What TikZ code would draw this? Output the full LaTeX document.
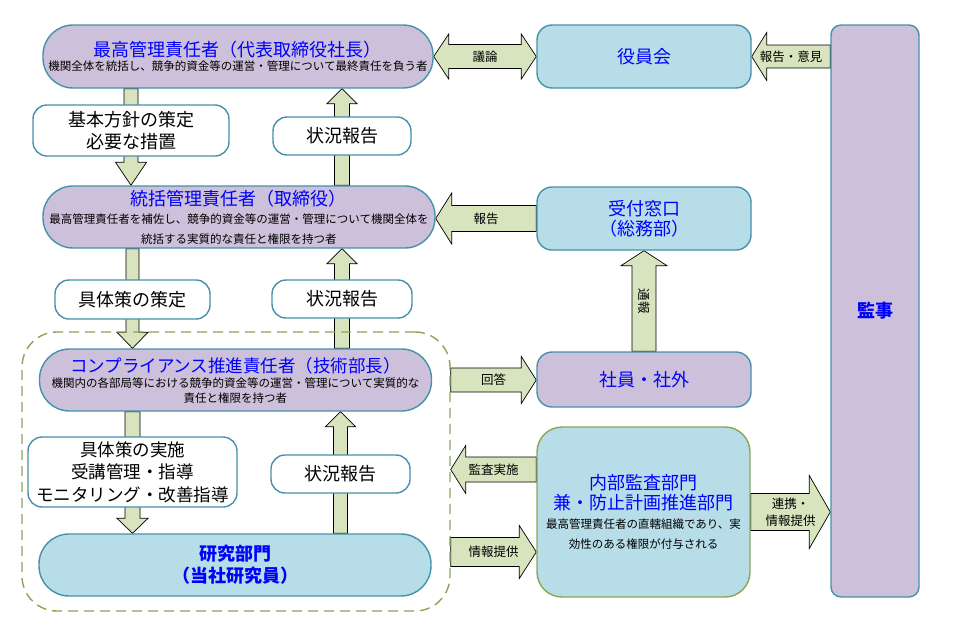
\documentclass[tikz,border=0pt]{standalone}
\usepackage{fontspec}
\setmainfont{Noto Sans CJK JP}
\usetikzlibrary{positioning, calc, backgrounds}
\definecolor{LavFill}{RGB}{204,192,218}
\definecolor{AquaFill}{RGB}{183,221,232}
\definecolor{TealLine}{RGB}{70,145,170}
\definecolor{OliveLine}{RGB}{140,165,85}
\definecolor{ArrowFill}{RGB}{215,228,189}
\definecolor{TitleBlue}{RGB}{0,0,255}

\newcommand{\ttl}{\fontsize{18}{20}\selectfont\color{TitleBlue}}
\newcommand{\lblfont}{\fontsize{12.5}{17}\selectfont}

% block arrows: from, to, half shaft, half head, head length (, label)
\newcommand{\downblk}[5]{\draw[blockarrow] let \p1=#1, \p2=#2 in
  (\x1-#3,\y1) -- (\x1-#3,\y2+#5) -- (\x1-#4,\y2+#5) -- (\x1,\y2) -- (\x1+#4,\y2+#5) -- (\x1+#3,\y2+#5) -- (\x1+#3,\y1) -- cycle;}
\newcommand{\upblk}[5]{\draw[blockarrow] let \p1=#1, \p2=#2 in
  (\x1-#3,\y1) -- (\x1-#3,\y2-#5) -- (\x1-#4,\y2-#5) -- (\x1,\y2) -- (\x1+#4,\y2-#5) -- (\x1+#3,\y2-#5) -- (\x1+#3,\y1) -- cycle;}
\newcommand{\rightblk}[6]{\draw[blockarrow] let \p1=#1, \p2=#2 in
  (\x1,\y1+#3) -- (\x2-#5,\y1+#3) -- (\x2-#5,\y1+#4) -- (\x2,\y1) -- (\x2-#5,\y1-#4) -- (\x2-#5,\y1-#3) -- (\x1,\y1-#3) -- cycle
  ({(\x1+\x2)/2},\y1) node[arrowlbl] {#6};}
\newcommand{\leftblk}[6]{\draw[blockarrow] let \p1=#1, \p2=#2 in
  (\x1,\y1+#3) -- (\x2+#5,\y1+#3) -- (\x2+#5,\y1+#4) -- (\x2,\y1) -- (\x2+#5,\y1-#4) -- (\x2+#5,\y1-#3) -- (\x1,\y1-#3) -- cycle
  ({(\x1+\x2)/2},\y1) node[arrowlbl] {#6};}
\newcommand{\bothblk}[6]{\draw[blockarrow] let \p1=#1, \p2=#2 in
  (\x1,\y1) -- (\x1+#5,\y1+#4) -- (\x1+#5,\y1+#3) -- (\x2-#5,\y1+#3) -- (\x2-#5,\y1+#4) -- (\x2,\y1) -- (\x2-#5,\y1-#4) -- (\x2-#5,\y1-#3) -- (\x1+#5,\y1-#3) -- (\x1+#5,\y1-#4) -- cycle
  ({(\x1+\x2)/2},\y1) node[arrowlbl] {#6};}

\begin{document}
\begin{tikzpicture}[x=1pt, y=-1pt]
        \tikzstyle{box} = [draw=TealLine, line width=1.4pt, align=center, inner sep=0pt,
          font=\fontsize{11.5}{14.5}\selectfont]
        \tikzstyle{pill} = [box, rounded corners=30pt, minimum width=392pt, minimum height=62pt]
        \tikzstyle{panel} = [box, rounded corners=15pt, minimum width=214pt, minimum height=63pt, font=\ttl]
        \tikzstyle{note} = [box, fill=white, rounded corners=14pt, font=\fontsize{18}{22}\selectfont]
        \tikzstyle{blockarrow} = [draw=black, line width=0.7pt, fill=ArrowFill]
        \tikzstyle{arrowlbl} = [font=\lblfont, align=center, inner sep=0pt]
        \tikzstyle{grpbox} = [draw=OliveLine, line width=1.4pt, dash pattern=on 10pt off 6pt,
          rounded corners=35pt, minimum width=428pt, minimum height=279pt]

        \useasboundingbox (0,0) rectangle (962,638);

        % management chain
        \node[pill, fill=LavFill, minimum width=390pt, minimum height=63pt] (top) at (238,56.5)
          {{\ttl 最高管理責任者（代表取締役社長）}\\機関全体を統括し、競争的資金等の運営・管理について最終責任を負う者};
        \node[pill, fill=LavFill, font=\fontsize{11.5}{20}\selectfont] (ctrl) at (239,217)
          {{\ttl 統括管理責任者（取締役）}\\[-2.4pt]最高管理責任者を補佐し、競争的資金等の運営・管理について機関全体を\\統括する実質的な責任と権限を持つ者};
        \node[pill, fill=LavFill, font=\fontsize{11.5}{15}\selectfont] (comp) at (235.5,380)
          {{\fontsize{17.5}{20}\selectfont\color{TitleBlue}コンプライアンス推進責任者（技術部長）}\\機関内の各部局等における競争的資金等の運営・管理について実質的な\\責任と権限を持つ者};
        \node[pill, fill=AquaFill, font=\fontsize{18}{22}\selectfont\bfseries, text=TitleBlue] (lab) at (235,565)
          {研究部門\\（当社研究員）};

        \node[note, minimum width=196pt, minimum height=51pt] (pol) at (131,130.5) {基本方針の策定\\必要な措置};
        \node[note, minimum width=138pt, minimum height=38pt] (rep1) at (342,136) {状況報告};
        \node[note, minimum width=155pt, minimum height=39pt] (plan) at (132.5,299.5) {具体策の策定};
        \node[note, minimum width=140pt, minimum height=38pt] (rep2) at (342,299) {状況報告};
        \node[note, minimum width=209pt, minimum height=70pt, font=\fontsize{17.5}{22.5}\selectfont] (impl) at (132.5,472)
          {具体策の実施\\受講管理・指導\\モニタリング・改善指導};
        \node[note, minimum width=139pt, minimum height=38pt] (rep3) at (340.5,474) {状況報告};

        \node[grpbox] (grp) at (236,471.5) {};

        % right side
        \node[panel, fill=AquaFill] (board) at (644,56.5) {役員会};
        \node[panel, fill=AquaFill] (desk) at (644,218.5) {受付窓口\\（総務部）};
        \node[panel, fill=LavFill, minimum height=55pt] (staff) at (644,379.5) {社員・社外};
        \node[box, draw=OliveLine, fill=AquaFill, rounded corners=25pt, minimum width=213pt, minimum height=170pt,
          font=\fontsize{11.5}{20}\selectfont] (audit) at (643.5,512)
          {{\ttl 内部監査部門}\\{\ttl 兼・防止計画推進部門}\\[-1.4pt]最高管理責任者の直轄組織であり、実\\効性のある権限が付与される};
        \node[box, fill=LavFill, rounded corners=10pt, minimum width=88pt, minimum height=572pt,
          font=\ttl\bfseries] (auditor) at (875,311) {監事};

        \coordinate (auditOut) at ([yshift=42.5pt]audit.west);
        \coordinate (auditIn) at ([yshift=-40pt]audit.west);

        \begin{pgfonlayer}{background}
        \downblk{(top.south -| pol)}{(ctrl.north -| pol)}{7pt}{15.5pt}{23pt}
        \upblk{(ctrl.north -| rep1)}{(top.south -| rep1)}{7.5pt}{15pt}{15pt}
        \downblk{(ctrl.south -| plan)}{(comp.north -| plan)}{6.5pt}{15.5pt}{16pt}
        \upblk{(comp.north -| rep2)}{(ctrl.south -| rep2)}{7.5pt}{15pt}{15pt}
        \downblk{(comp.south -| impl)}{(lab.north -| impl)}{7.5pt}{15.5pt}{15pt}
        \upblk{(lab.north -| rep3)}{(comp.south -| rep3)}{7pt}{15pt}{15pt}

        \bothblk{(top.east)}{(board.west)}{12pt}{22.5pt}{15pt}{議論}
        \leftblk{(auditor.west |- board)}{(board.east)}{11.5pt}{24pt}{15pt}{報告・意見}
        \leftblk{(desk.west)}{(ctrl.east)}{13pt}{25.5pt}{16pt}{報告}
        \upblk{(staff.north)}{(desk.south)}{12pt}{23pt}{15pt}
        \rightblk{(grp.east |- comp)}{(staff.west)}{12pt}{23.5pt}{15pt}{回答}
        \leftblk{(auditOut)}{(grp.east)}{12.5pt}{24pt}{15pt}{監査実施}
        \rightblk{(grp.east |- auditIn)}{(auditIn)}{14.5pt}{26.5pt}{17pt}{情報提供}
        \rightblk{(audit.east)}{(auditor.west |- audit)}{18.5pt}{36.5pt}{21pt}{連携・\\情報提供}
        \end{pgfonlayer}
        \node[arrowlbl, rotate=-90] (tsuho) at ($(staff.north)!0.5!(desk.south)$) {通報};
      \end{tikzpicture}
\end{document}
